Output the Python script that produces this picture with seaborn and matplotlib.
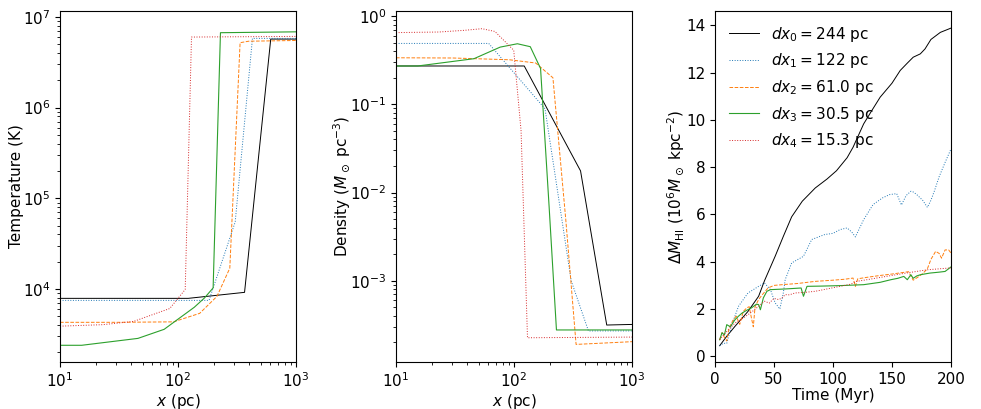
import numpy as np
import matplotlib
matplotlib.use("Agg")
import matplotlib.pyplot as plt
import seaborn as sns

# resolution labels / styles
labels = [r"$dx_0 = 244$ pc", r"$dx_1 = 122$ pc", r"$dx_2 = 61.0$ pc",
          r"$dx_3 = 30.5$ pc", r"$dx_4 = 15.3$ pc"]
colors = ["black", "#1f77b4", "#ff7f0e", "#2ca02c", "#d62728"]
styles = ["-", ":", "--", "-", ":"]

# temperature profiles (x in pc, T in K)
temp_x0 = [10, 122, 366, 610, 1000]
temp_y0 = [7.9e3, 7.9e3, 9.2e3, 5.7e6, 5.7e6]
temp_x1 = [10, 61, 183, 305, 427, 1000]
temp_y1 = [7.5e3, 7.5e3, 7.5e3, 5.5e4, 5.8e6, 5.8e6]
temp_x2 = [10, 30.5, 91.5, 152.5, 213.5, 274.5, 335.5, 396.5, 1000]
temp_y2 = [4.3e3, 4.3e3, 4.35e3, 5.4e3, 8.3e3, 1.7e4, 5.2e6, 5.4e6, 5.5e6]
temp_x3 = [10, 15.25, 45.75, 76.25, 106.75, 137.25, 167.75, 198.25, 228.75, 1000]
temp_y3 = [2.4e3, 2.4e3, 2.86e3, 3.6e3, 4.96e3, 6.3e3, 8.0e3, 1.03e4, 6.7e6, 6.85e6]
temp_x4 = [10, 23, 42, 85, 115, 130, 1000]
temp_y4 = [3.9e3, 4.05e3, 4.4e3, 6.1e3, 9.9e3, 6.0e6, 6.1e6]

# density profiles (x in pc, rho in Msun/pc^3)
dens_x0 = [10, 122, 366, 610, 1000]
dens_y0 = [0.272, 0.272, 0.0176, 3.15e-4, 3.2e-4]
dens_x1 = [10, 61, 183, 305, 427, 1000]
dens_y1 = [0.49, 0.49, 0.089, 1.0e-3, 2.7e-4, 2.7e-4]
dens_x2 = [10, 30.5, 91.5, 152.5, 213.5, 274.5, 335.5, 1000]
dens_y2 = [0.337, 0.335, 0.32, 0.294, 0.2, 4.9e-3, 1.9e-4, 2.04e-4]
dens_x3 = [10, 15.25, 45.75, 76.25, 106.75, 137.25, 167.75, 198.25, 228.75, 1000]
dens_y3 = [0.272, 0.272, 0.329, 0.445, 0.486, 0.45, 0.255, 6.9e-3, 2.77e-4, 2.77e-4]
dens_x4 = [10, 23, 38, 53.5, 68.8, 99.4, 114.7, 130, 1000]
dens_y4 = [0.65, 0.66, 0.69, 0.72, 0.67, 0.41, 0.05, 2.26e-4, 2.3e-4]

# HI mass change vs time (Myr, 1e6 Msun/kpc^2)
time0 = [4, 10, 17, 28, 37, 42, 51, 58, 65, 74, 85, 95, 103, 112, 117, 126, 133,
         140, 150, 157, 163, 168, 174, 178, 183, 191, 200]
mass0 = [0.45, 0.85, 1.27, 1.9, 2.54, 3.2, 4.23, 5.08, 5.9, 6.56, 7.12, 7.5, 7.85,
         8.4, 8.84, 9.83, 10.4, 10.96, 11.55, 12.09, 12.4, 12.65, 12.79, 13.0, 13.4,
         13.7, 13.88]
time1 = [4, 7, 10, 14, 20, 28, 37, 42, 47, 51, 55, 58, 59.5, 65, 75, 82, 93, 100,
         106, 112, 116, 119, 126, 134, 142, 148, 154, 158, 162, 166, 168, 171, 176,
         180, 183, 186, 190, 195, 200]
mass1 = [0.45, 0.55, 0.55, 1.3, 2.12, 2.68, 2.96, 3.1, 2.82, 2.26, 2.0, 2.7, 3.24,
         3.95, 4.23, 4.94, 5.15, 5.2, 5.36, 5.43, 5.25, 5.05, 5.78, 6.42, 6.7, 6.84,
         6.88, 6.4, 6.8, 6.98, 6.95, 6.84, 6.6, 6.3, 6.6, 7.0, 7.6, 8.2, 8.77]
time2 = [4, 6, 8, 10, 12, 15, 18, 21, 24, 27, 29, 31, 32.5, 34, 37, 40, 45, 50, 57,
         70, 85, 100, 110, 117, 119, 121, 130, 140, 150, 160, 164, 168, 172, 176,
         180, 183, 187, 190, 192, 195, 198, 200]
mass2 = [0.7, 1.0, 0.8, 0.65, 1.2, 1.5, 1.7, 1.35, 1.9, 2.05, 2.1, 1.6, 1.25, 2.1,
         2.4, 2.6, 2.89, 3.0, 3.03, 3.08, 3.17, 3.22, 3.26, 3.31, 2.96, 3.28, 3.35,
         3.42, 3.48, 3.55, 3.58, 3.22, 3.35, 3.5, 3.7, 4.1, 4.44, 4.35, 4.15, 4.5,
         4.5, 4.37]
time3 = [4, 6, 8, 10, 13, 17, 20, 23, 27, 31, 35, 37, 38.5, 41, 44, 47, 60, 73, 75,
         78, 90, 106, 126, 140, 149, 155, 160, 163, 166, 168, 171, 174, 182, 190,
         195, 200]
mass3 = [0.7, 1.0, 0.9, 1.34, 1.25, 1.55, 1.7, 1.83, 1.95, 2.05, 2.2, 2.19, 1.97,
         2.47, 2.75, 2.82, 2.85, 2.89, 2.54, 2.96, 2.97, 2.99, 3.03, 3.13, 3.24,
         3.3, 3.38, 3.24, 3.45, 3.3, 3.4, 3.45, 3.52, 3.56, 3.59, 3.78]
time4 = [4, 8, 12, 17, 22, 28, 33, 37, 42, 46, 50, 54, 57, 59.5, 63, 68, 75, 85,
         95, 106, 115, 120, 130, 145, 163, 180, 190, 200]
mass4 = [0.7, 0.95, 1.15, 1.41, 1.55, 1.76, 1.95, 2.12, 2.33, 2.25, 2.45, 2.4,
         2.47, 2.61, 2.6, 2.68, 2.7, 2.75, 2.85, 2.96, 3.05, 3.17, 3.25, 3.38, 3.53,
         3.66, 3.7, 3.74]

temp_x = [temp_x0, temp_x1, temp_x2, temp_x3, temp_x4]
temp_y = [temp_y0, temp_y1, temp_y2, temp_y3, temp_y4]
dens_x = [dens_x0, dens_x1, dens_x2, dens_x3, dens_x4]
dens_y = [dens_y0, dens_y1, dens_y2, dens_y3, dens_y4]
times = [time0, time1, time2, time3, time4]
masses = [mass0, mass1, mass2, mass3, mass4]

plt.rcParams["font.size"] = 11
fig = plt.figure(figsize=(9.81, 4.09), dpi=100)
ax1 = fig.add_axes([0.0612, 0.1149, 0.2406, 0.858])
ax2 = fig.add_axes([0.4037, 0.1149, 0.2406, 0.858])
ax3 = fig.add_axes([0.7288, 0.1149, 0.2406, 0.858])

for i in range(5):
    lw = 0.8 if i == 3 else 0.7
    sns.lineplot(x=temp_x[i], y=temp_y[i], ax=ax1, color=colors[i],
                 linestyle=styles[i], lw=lw)
    sns.lineplot(x=dens_x[i], y=dens_y[i], ax=ax2, color=colors[i],
                 linestyle=styles[i], lw=lw)
    sns.lineplot(x=times[i], y=masses[i], ax=ax3, color=colors[i],
                 linestyle=styles[i], lw=lw, label=labels[i])

ax1.set_xscale("log")
ax1.set_yscale("log")
ax1.set_xlim(10, 1000)
ax1.set_ylim(1.57e3, 1.16e7)
ax1.set_xlabel(r"$x$ (pc)", labelpad=1)
ax1.set_ylabel("Temperature (K)", labelpad=-1)

ax2.set_xscale("log")
ax2.set_yscale("log")
ax2.set_xlim(10, 1000)
ax2.set_ylim(1.2e-4, 1.14)
ax2.set_xlabel(r"$x$ (pc)", labelpad=1)
ax2.set_ylabel(r"Density ($M_\odot$ pc$^{-3}$)", labelpad=-2.5)

ax3.set_xlim(0, 200)
ax3.set_ylim(-0.24, 14.6)
ax3.set_xticks([0, 50, 100, 150, 200])
ax3.set_yticks(np.arange(0, 15, 2))
ax3.set_xlabel("Time (Myr)", labelpad=1)
ax3.set_ylabel(r"$\Delta M_{\rm HI}$ ($10^6 M_\odot$ kpc$^{-2}$)", labelpad=-1)
ax3.legend(loc="upper left", frameon=False, fontsize=11)

fig.savefig("out.png", dpi=100)
